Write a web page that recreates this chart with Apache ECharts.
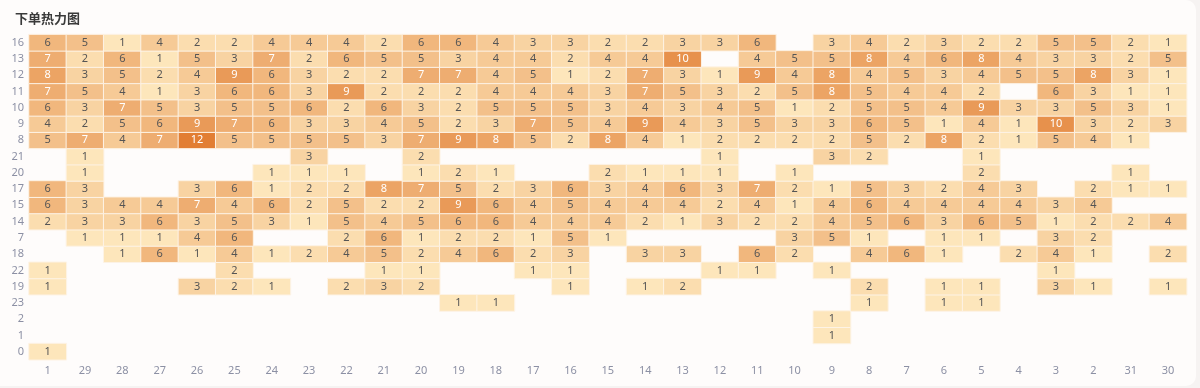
<!DOCTYPE html>
<html>
<head>
<meta charset="utf-8">
<script src="https://cdn.jsdelivr.net/npm/echarts@6/dist/echarts.min.js"></script>
<style>
html,body{margin:0;padding:0;background:#f6f3f2;}
#card{position:absolute;left:0;top:0;width:1196px;height:386px;background:#fefcfb;border-radius:0 10px 10px 0;}
#chart{width:1200px;height:388px;position:absolute;left:0;top:0;}
</style>
</head>
<body>
<div id="card"></div>
<div id="chart"></div>
<script>
// x-axis categories (day of month)
const days = ['1','29','28','27','26','25','24','23','22','21','20','19','18','17','16','15','14','13','12','11','10','9','8','7','6','5','4','3','2','31','30'];
// y-axis categories, bottom to top (hour)
const hours = ['0','1','2','23','19','22','18','7','14','15','17','20','21','8','9','10','11','12','13','16'];

const _ = null;
// counts per hour row, in the order of days
const h16 = [6,5,1,4,2,2,4,4,4,2,6,6,4,3,3,2,2,3,3,6,_,3,4,2,3,2,2,5,5,2,1];
const h13 = [7,2,6,1,5,3,7,2,6,5,5,3,4,4,2,4,4,10,_,4,5,5,8,4,6,8,4,3,3,2,5];
const h12 = [8,3,5,2,4,9,6,3,2,2,7,7,4,5,1,2,7,3,1,9,4,8,4,5,3,4,5,5,8,3,1];
const h11 = [7,5,4,1,3,6,6,3,9,2,2,2,4,4,4,3,7,5,3,2,5,8,5,4,4,2,_,6,3,1,1];
const h10 = [6,3,7,5,3,5,5,6,2,6,3,2,5,5,5,3,4,3,4,5,1,2,5,5,4,9,3,3,5,3,1];
const h9  = [4,2,5,6,9,7,6,3,3,4,5,2,3,7,5,4,9,4,3,5,3,3,6,5,1,4,1,10,3,2,3];
const h8  = [5,7,4,7,12,5,5,5,5,3,7,9,8,5,2,8,4,1,2,2,2,2,5,2,8,2,1,5,4,1,_];
const h21 = [_,1,_,_,_,_,_,3,_,_,2,_,_,_,_,_,_,_,1,_,_,3,2,_,_,1,_,_,_,_,_];
const h20 = [_,1,_,_,_,_,1,1,1,_,1,2,1,_,_,2,1,1,1,_,1,_,_,_,_,2,_,_,_,1,_];
const h17 = [6,3,_,_,3,6,1,2,2,8,7,5,2,3,6,3,4,6,3,7,2,1,5,3,2,4,3,_,2,1,1];
const h15 = [6,3,4,4,7,4,6,2,5,2,2,9,6,4,5,4,4,4,2,4,1,4,6,4,4,4,4,3,4,_,_];
const h14 = [2,3,3,6,3,5,3,1,5,4,5,6,6,4,4,4,2,1,3,2,2,4,5,6,3,6,5,1,2,2,4];
const h7  = [_,1,1,1,4,6,_,_,2,6,1,2,2,1,5,1,_,_,_,_,3,5,1,_,1,1,_,3,2,_,_];
const h18 = [_,_,1,6,1,4,1,2,4,5,2,4,6,2,3,_,3,3,_,6,2,_,4,6,1,_,2,4,1,_,2];
const h22 = [1,_,_,_,_,2,_,_,_,1,1,_,_,1,1,_,_,_,1,1,_,1,_,_,_,_,_,1,_,_,_];
const h19 = [1,_,_,_,3,2,1,_,2,3,2,_,_,_,1,_,1,2,_,_,_,_,2,_,1,1,_,3,1,_,1];
const h23 = [_,_,_,_,_,_,_,_,_,_,_,1,1,_,_,_,_,_,_,_,_,_,1,_,1,1,_,_,_,_,_];
const h2  = [_,_,_,_,_,_,_,_,_,_,_,_,_,_,_,_,_,_,_,_,_,1,_,_,_,_,_,_,_,_,_];
const h1  = [_,_,_,_,_,_,_,_,_,_,_,_,_,_,_,_,_,_,_,_,_,1,_,_,_,_,_,_,_,_,_];
const h0  = [1,_,_,_,_,_,_,_,_,_,_,_,_,_,_,_,_,_,_,_,_,_,_,_,_,_,_,_,_,_,_];

const rows = {'16':h16,'13':h13,'12':h12,'11':h11,'10':h10,'9':h9,'8':h8,'21':h21,'20':h20,'17':h17,'15':h15,'14':h14,'7':h7,'18':h18,'22':h22,'19':h19,'23':h23,'2':h2,'1':h1,'0':h0};

const data = [];
hours.forEach((h, yi) => {
  rows[h].forEach((v, xi) => {
    if (v !== null) data.push({value: [xi, yi, v], label: {color: v >= 7 ? '#ffffff' : '#555555'}});
  });
});

const chart = echarts.init(document.getElementById('chart'));
chart.setOption({
  backgroundColor: 'transparent',
  animation: false,
  title: {
    text: '下单热力图',
    left: 10, top: 7,
    textStyle: {fontSize: 13, fontWeight: 'bold', color: '#3a3a3a', fontFamily: 'Noto Sans CJK SC'}
  },
  grid: {left: 29, right: 13.3, top: 34.6, bottom: 28.2, containLabel: false},
  xAxis: {
    type: 'category', data: days,
    axisLine: {show: false}, axisTick: {show: false}, splitLine: {show: false},
    axisLabel: {color: '#8c90a4', fontSize: 11, margin: 6, fontFamily: 'Noto Sans'}
  },
  yAxis: {
    type: 'category', data: hours,
    axisLine: {show: false}, axisTick: {show: false}, splitLine: {show: false},
    axisLabel: {color: '#8c90a4', fontSize: 11, margin: 5, fontFamily: 'Noto Sans'}
  },
  visualMap: {
    show: false, min: 1, max: 12, calculable: false,
    inRange: {color: ['#fde6bb', '#e27e33']}
  },
  series: [{
    type: 'heatmap',
    data: data,
    itemStyle: {borderColor: '#fdf3e6', borderWidth: 1},
    label: {
      show: true, fontSize: 11, fontFamily: 'Noto Sans',
      formatter: p => p.value[2],
      color: '#555'
    }
  }]
});
</script>
</body>
</html>
